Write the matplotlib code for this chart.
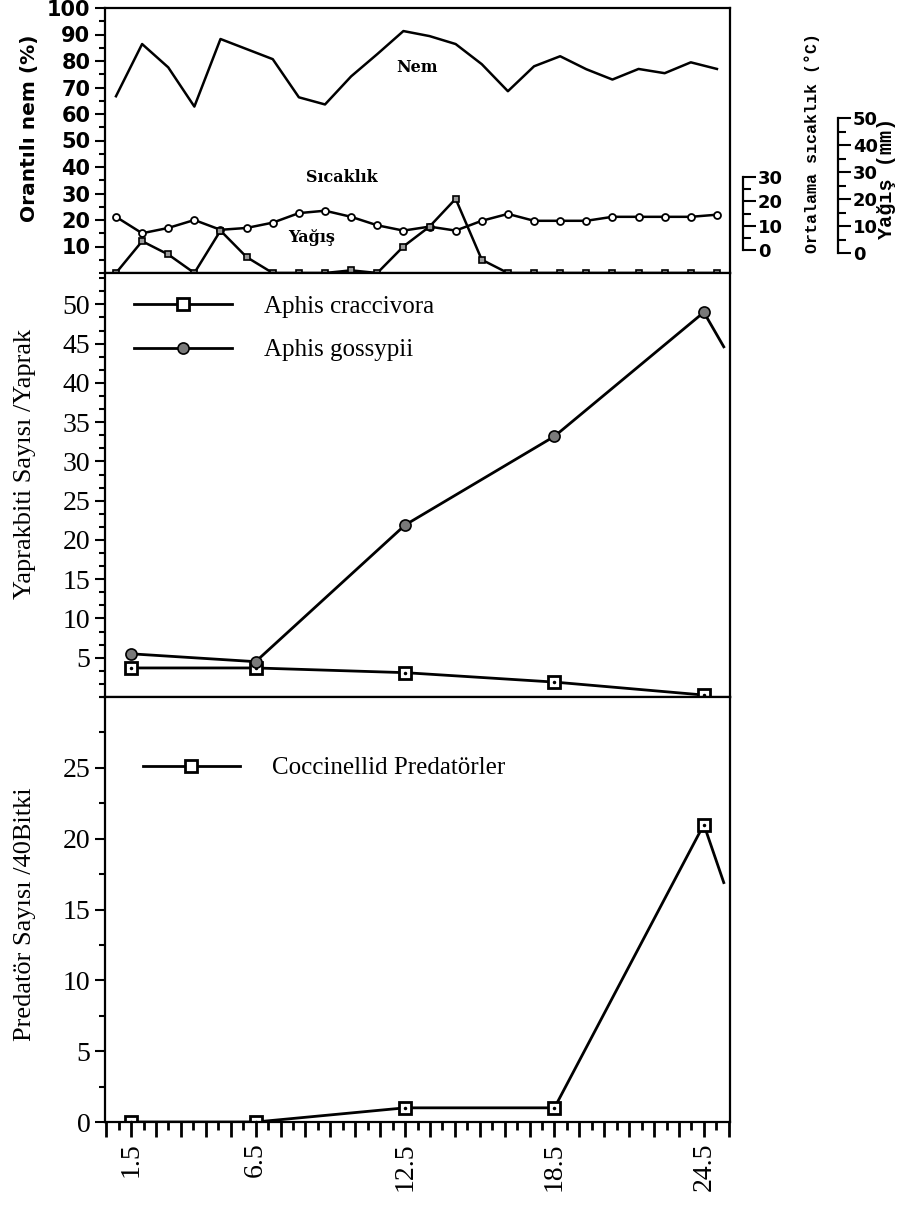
import matplotlib
matplotlib.use('Agg')
import matplotlib.pyplot as plt
from matplotlib.ticker import MultipleLocator, FuncFormatter, NullLocator

# weather data (top panel), one value per day, read in the 0-100 scale of the panel
days = list(range(1, 25))
nem = [66.7, 86.4, 77.6, 62.8, 88.3, 84.5, 80.7, 66.3, 63.6, 74.2, 82.6, 91.3,
       89.4, 86.4, 78.8, 68.6, 78.0, 81.8, 76.9, 73.0, 77.0, 75.4, 79.5, 77.0]
sicaklik = [21.2, 15.0, 17.0, 20.0, 16.3, 17.0, 19.0, 22.6, 23.5, 21.2, 18.0, 16.0,
            17.5, 16.0, 19.7, 22.3, 19.7, 19.7, 19.7, 21.2, 21.2, 21.2, 21.2, 22.0]
yagis = [0, 12, 7, 0, 16, 6, 0, 0, 0, 1, 0, 10,
         17.5, 28, 5, 0, 0, 0, 0, 0, 0, 0, 0, 0]

# sampling dates
dates = [1.5, 6.5, 12.5, 18.5, 24.5]
date_labels = ['1.5', '6.5', '12.5', '18.5', '24.5']
tail_x = 25.3  # line runs off toward the next sample

craccivora = [3.7, 3.7, 3.1, 1.9, 0.25]
gossypii = [5.5, 4.5, 21.9, 33.2, 49.0]
gossypii_tail = 44.6
predator = [0.0, 0.0, 1.0, 1.0, 21.0]
predator_tail = 16.9

W, H = 911, 1205
fig = plt.figure(figsize=(W / 100, H / 100), dpi=100)


def box(x0, y0, x1, y1):
    # pixel box -> figure fraction
    return [x0 / W, 1 - y1 / H, (x1 - x0) / W, (y1 - y0) / H]


serif = 'Liberation Serif'
lw_sp = 1.6

ax1 = fig.add_axes(box(105, 8, 730, 273))
ax2 = fig.add_axes(box(105, 273, 730, 697))
ax3 = fig.add_axes(box(105, 697, 730, 1122))

for ax in (ax1, ax2, ax3):
    for s in ax.spines.values():
        s.set_linewidth(lw_sp)
    ax.tick_params(which='major', direction='out', length=7, width=1.5)
    ax.tick_params(which='minor', direction='out', length=4, width=1.5)

# ---- top panel ----
ax1.plot(days, nem, color='black', lw=1.8)
ax1.plot(days, sicaklik, color='black', lw=1.8, marker='o', ms=5,
         mfc='white', mec='black', mew=1.3)
ax1.plot(days, yagis, color='black', lw=1.8, marker='s', ms=5,
         mfc='#999999', mec='black', mew=1.2)
ax1.set_xlim(0.58, 24.5)
ax1.set_ylim(0, 100)
ax1.set_yticks(range(10, 101, 10))
ax1.yaxis.set_minor_locator(MultipleLocator(5))
ax1.xaxis.set_major_locator(NullLocator())
for t in ax1.get_yticklabels():
    t.set_fontsize(15)
    t.set_fontweight('bold')
ax1.text(417 / W, 1 - 68 / H, 'Nem', transform=fig.transFigure, ha='center', va='center',
         fontsize=11.5, fontweight='bold', family='DejaVu Serif')
ax1.text(342 / W, 1 - 177 / H, 'Sıcaklık', transform=fig.transFigure, ha='center',
         va='center', fontsize=11.5, fontweight='bold', family='DejaVu Serif')
ax1.text(312 / W, 1 - 237 / H, 'Yağış', transform=fig.transFigure, ha='center',
         va='center', fontsize=11.5, fontweight='bold', family='DejaVu Serif')
fig.text(30 / W, 1 - 128 / H, 'Orantılı nem (%)', rotation=90, ha='center', va='center',
         fontsize=14.5, fontweight='bold')

# scale bars on the right
axt = fig.add_axes(box(743, 177, 755, 250))
axr = fig.add_axes(box(838, 118, 850, 253))
for a, top, maj, mnr in ((axt, 30, 10, 5), (axr, 50, 10, 5)):
    for k, s in a.spines.items():
        s.set_visible(k == 'left')
        s.set_linewidth(lw_sp)
    a.patch.set_visible(False)
    a.set_ylim(0, top)
    a.set_yticks(range(0, top + 1, maj))
    a.yaxis.set_minor_locator(MultipleLocator(mnr))
    a.xaxis.set_major_locator(NullLocator())
    a.tick_params(axis='y', which='major', direction='in', length=9, width=1.5,
                  left=True, right=False, labelleft=False, labelright=True, pad=2)
    a.tick_params(axis='y', which='minor', direction='in', length=6, width=1.5)
    for t in a.get_yticklabels():
        t.set_fontsize(13)
        t.set_fontweight('bold')
fig.text(812 / W, 1 - 143 / H, 'Ortalama sıcaklık (°C)', rotation=90, ha='center',
         va='center', fontsize=12, fontweight='bold', family='Liberation Mono')
fig.text(887 / W, 1 - 178 / H, 'Yağış (mm)', rotation=90, ha='center', va='center',
         fontsize=14.5, fontweight='bold', family='Liberation Mono')

# ---- middle panel ----
ax2.plot(dates, craccivora, color='black', lw=2, marker='s', ms=9, mfc='white',
         mec='black', mew=2, label='Aphis craccivora')
ax2.plot(dates, craccivora, ls='none', marker='.', ms=3, color='black')
ax2.plot(dates + [tail_x], gossypii + [gossypii_tail], color='black', lw=2, marker='o',
         ms=8, mfc='#7a7a7a', mec='black', mew=1.2, markevery=list(range(5)),
         label='Aphis gossypii')
ax2.set_xlim(0.45, 25.55)
ax2.set_ylim(0, 54)
ax2.set_yticks(range(5, 51, 5))
ax2.yaxis.set_minor_locator(MultipleLocator(5 / 3))
ax2.xaxis.set_major_locator(NullLocator())
for t in ax2.get_yticklabels():
    t.set_fontsize(20)
    t.set_family(serif)
ax2.set_ylabel('Yaprakbiti Sayısı /Yaprak', fontsize=19, family=serif)
ax2.yaxis.set_label_coords(-0.11, 0.55)
ax2.legend(loc='upper left', bbox_to_anchor=(0.047, 0.948), frameon=False,
           prop={'family': serif, 'size': 18}, handlelength=3.9, handletextpad=1.3,
           labelspacing=0.85, borderpad=0, borderaxespad=0)

# ---- bottom panel ----
ax3.plot(dates + [tail_x], predator + [predator_tail], color='black', lw=2, marker='s',
         ms=9, mfc='white', mec='black', mew=2, markevery=list(range(5)),
         label='Coccinellid Predatörler')
ax3.plot(dates, predator, ls='none', marker='.', ms=3, color='black')
ax3.set_xlim(0.45, 25.55)
ax3.set_ylim(0, 30)
ax3.set_yticks(range(0, 26, 5))
ax3.yaxis.set_minor_locator(MultipleLocator(2.5))
ax3.xaxis.set_major_locator(MultipleLocator(1, offset=0.5))
ax3.xaxis.set_minor_locator(MultipleLocator(1))
lab = dict(zip(dates, date_labels))
ax3.xaxis.set_major_formatter(FuncFormatter(lambda v, p: lab.get(round(v, 1), '')))
ax3.tick_params(axis='x', which='major', length=11, width=2, rotation=90, labelsize=20)
ax3.tick_params(axis='x', which='minor', length=6, width=2)
for t in ax3.get_xticklabels():
    t.set_family(serif)
for t in ax3.get_yticklabels():
    t.set_fontsize(20)
    t.set_family(serif)
ax3.set_ylabel('Predatör Sayısı /40Bitki', fontsize=19, family=serif)
ax3.yaxis.set_label_coords(-0.11, 0.49)
ax3.legend(loc='upper left', bbox_to_anchor=(0.06, 0.859), frameon=False,
           prop={'family': serif, 'size': 18}, handlelength=3.9, handletextpad=1.3,
           borderpad=0, borderaxespad=0)

fig.savefig('out.png', dpi=100)
